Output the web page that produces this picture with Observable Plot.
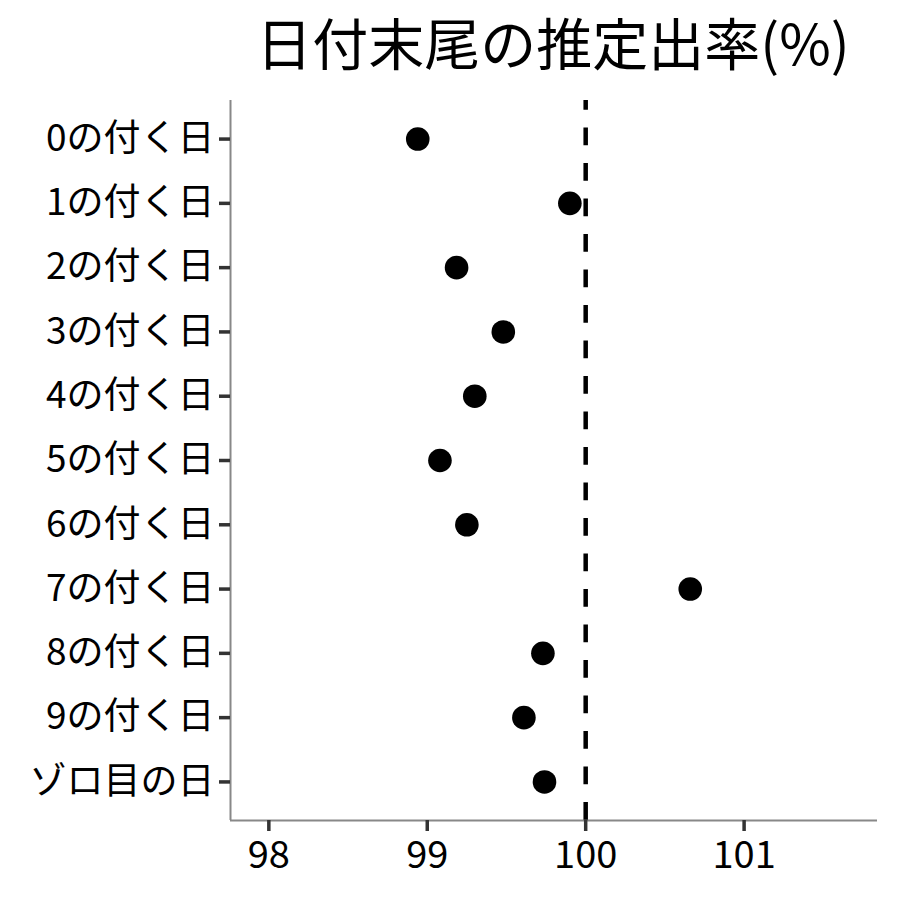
<!DOCTYPE html>
<html><head><meta charset="utf-8">
<script src="https://cdn.jsdelivr.net/npm/d3@7"></script>
<script src="https://cdn.jsdelivr.net/npm/@observablehq/plot@0.6"></script>
<style>
body{margin:0;background:#fff;font-family:"Noto Sans CJK JP",sans-serif;}
#title{height:90px;line-height:82px;font-size:56px;text-align:center;padding-left:230px;padding-right:24px;color:#000;white-space:nowrap;box-sizing:border-box;width:900px;}
</style></head><body>
<div id="title">日付末尾の推定出率(%)</div>
<div id="chart"></div>
<script>
const categories = ["0の付く日","1の付く日","2の付く日","3の付く日","4の付く日","5の付く日","6の付く日","7の付く日","8の付く日","9の付く日","ゾロ目の日"];
const values = [98.94, 99.90, 99.185, 99.48, 99.30, 99.08, 99.25, 100.66, 99.73, 99.61, 99.74];
const xTicks = [98, 99, 100, 101];
const refValue = 100;
const xDomain = [97.758, 101.842];
const yDomain = [categories.length - 0.4, -0.6];

const data = categories.map((c, i) => ({label: c, idx: i, value: values[i]}));
const font = '"Noto Sans CJK JP", sans-serif';

const plot = Plot.plot({
  width: 900, height: 810,
  marginTop: 10, marginBottom: 80, marginLeft: 230, marginRight: 23,
  style: {fontFamily: font, background: "#fff", color: "#000"},
  x: {domain: xDomain},
  y: {domain: yDomain},
  marks: [
    Plot.ruleX([xDomain[0]], {stroke: "#888", strokeWidth: 2}),
    Plot.ruleY([yDomain[0]], {stroke: "#888", strokeWidth: 2}),
    Plot.axisX({ticks: xTicks, tickSize: 11, tickPadding: 10, fontSize: 38, stroke: "#333", strokeWidth: 3.5, fill: "#000", label: null, tickFormat: d => String(d)}),
    Plot.axisY({ticks: d3.range(categories.length), tickFormat: i => categories[i], tickSize: 11, tickPadding: 5, fontSize: 37, stroke: "#333", strokeWidth: 3.5, fill: "#000", label: null}),
    Plot.ruleX([refValue], {stroke: "#000", strokeWidth: 4.5, strokeDasharray: "17.7,17.8", strokeDashoffset: 8}),
    Plot.dot(data, {x: "value", y: "idx", r: 11.8, fill: "#000", stroke: "none"})
  ]
});
document.getElementById("chart").appendChild(plot);
</script>
</body></html>
